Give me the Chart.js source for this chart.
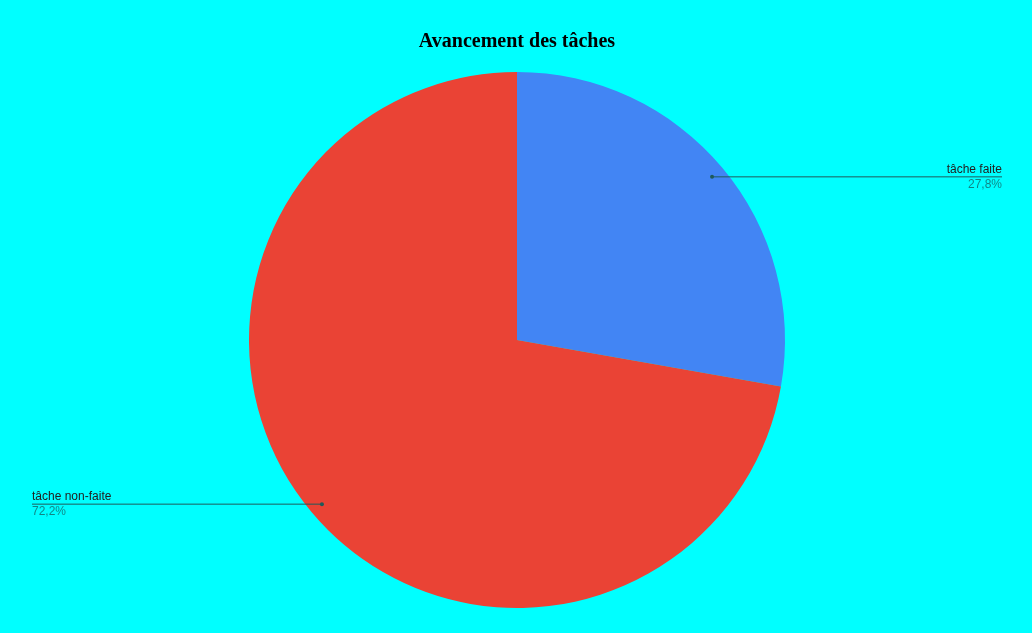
<!DOCTYPE html>
<html>
<head>
<meta charset="utf-8">
<script src="https://cdn.jsdelivr.net/npm/chart.js@4"></script>
<style>
  html, body { margin: 0; padding: 0; background: #00ffff; }
  #wrap { width: 1032px; height: 633px; }
</style>
</head>
<body>
<div id="wrap"><canvas id="chart"></canvas></div>
<script>
// Data
const categories = ['tâche faite', 'tâche non-faite'];
const taskCounts = [5, 13];
const sliceColors = ['#4285f4', '#ea4335'];

// leader lines + labels drawn next to each slice
const sideLabels = {
    id: 'sideLabels',
    afterDatasetsDraw(chart) {
        const ctx = chart.ctx;
        const meta = chart.getDatasetMeta(0);
        const total = taskCounts.reduce((a, b) => a + b, 0);
        ctx.save();
        meta.data.forEach((arc, i) => {
            const p = arc.getProps(['x', 'y', 'startAngle', 'endAngle', 'outerRadius'], true);
            const mid = (p.startAngle + p.endAngle) / 2;
            const px = p.x + Math.cos(mid) * p.outerRadius * 0.95;
            const py = p.y + Math.sin(mid) * p.outerRadius * 0.95;
            const right = Math.cos(mid) >= 0;
            const endX = right ? chart.width - 30 : 32;

            ctx.strokeStyle = '#1f5a5a';
            ctx.lineWidth = 1;
            ctx.beginPath();
            ctx.moveTo(px, py + 0.5);
            ctx.lineTo(endX, py + 0.5);
            ctx.stroke();

            ctx.fillStyle = '#1f5a5a';
            ctx.beginPath();
            ctx.arc(px, py + 0.5, 2, 0, Math.PI * 2);
            ctx.fill();

            const pct = (taskCounts[i] / total * 100).toFixed(1).replace('.', ',') + '%';
            ctx.font = '12px "Liberation Sans", Arial, sans-serif';
            ctx.textAlign = right ? 'right' : 'left';
            ctx.textBaseline = 'bottom';
            ctx.fillStyle = '#222222';
            ctx.fillText(categories[i], endX, py - 1);
            ctx.textBaseline = 'top';
            ctx.fillStyle = 'rgba(30, 30, 30, 0.55)';
            ctx.fillText(pct, endX, py + 2);
        });
        ctx.restore();
    }
};

new Chart(document.getElementById('chart'), {
    type: 'pie',
    data: {
        labels: categories,
        datasets: [{
            data: taskCounts,
            backgroundColor: sliceColors,
            borderWidth: 0
        }]
    },
    options: {
        responsive: true,
        maintainAspectRatio: false,
        animation: false,
        layout: { padding: { top: 0, bottom: 25, left: 2, right: 0 } },
        plugins: {
            legend: { display: false },
            tooltip: { enabled: false },
            title: {
                display: true,
                text: 'Avancement des tâches',
                color: '#000000',
                font: { family: '"Liberation Serif", "Times New Roman", serif', size: 20, weight: 'bold', lineHeight: 1.2 },
                padding: { top: 30, bottom: 18 }
            }
        }
    },
    plugins: [sideLabels]
});
</script>
</body>
</html>
